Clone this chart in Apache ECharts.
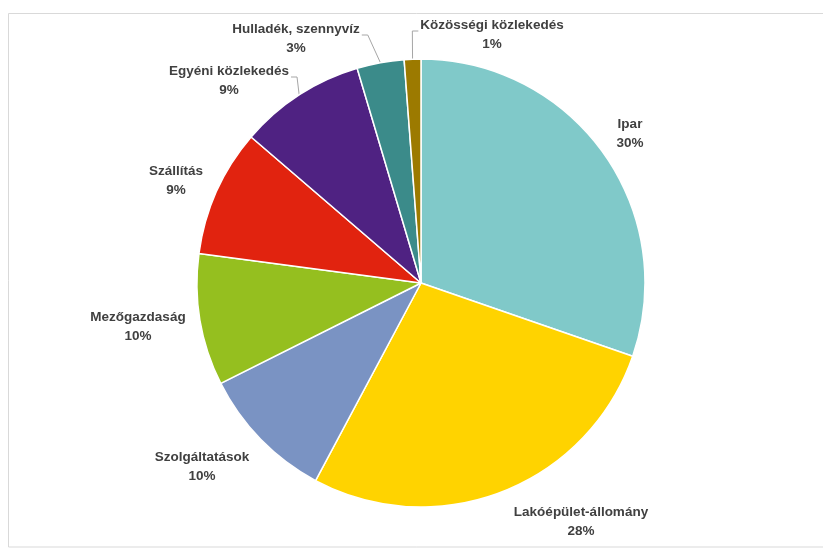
<!DOCTYPE html>
<html lang="hu">
<head>
<meta charset="UTF-8">
<title>Kibocsátás ágazatonként</title>
<style>
  html, body { margin: 0; padding: 0; background: #fff; }
  #main { width: 823px; height: 548px; }
</style>
</head>
<body>
<div id="main"></div>
<script src="https://cdn.jsdelivr.net/npm/echarts@6/dist/echarts.min.js"></script>
<script>
// shares in %, clockwise from 12 o'clock
var categories = ['Ipar', 'Lakóépület-állomány', 'Szolgáltatások', 'Mezőgazdaság',
                  'Szállítás', 'Egyéni közlekedés', 'Hulladék, szennyvíz', 'Közösségi közlekedés'];
var shares = [30.3, 27.5, 9.8, 9.5, 9.2, 9.1, 3.4, 1.2];

var colors = ['#80C9C9', '#FFD300', '#7A93C3', '#95BF1F', '#E1230F', '#4F2282', '#3B8B8A', '#9C7A00'];

// where each label sits (centre of the text block) and which ones have a leader line
var labelCenters = [[630, 134], [581, 522], [202, 467], [138, 327], [176, 181], [229, 81], [296, 39], [492, 35]];
var withLeader = [false, false, false, false, false, true, true, true];

var myChart = echarts.init(document.getElementById('main'));

var pieData = categories.map(function (name, i) {
    return {
        name: name,
        value: shares[i],
        itemStyle: { color: colors[i] },
        labelLine: { show: withLeader[i] }
    };
});

var option = {
    animation: false,
    backgroundColor: '#fff',
    graphic: [{
        type: 'rect',
        silent: true,
        shape: { x: 8.5, y: 13.5, width: 900, height: 533.5 },
        style: { fill: 'none', stroke: '#d9d9d9', lineWidth: 1 }
    }],
    series: [{
        type: 'pie',
        center: [421, 283],
        radius: 224,
        startAngle: 90,
        clockwise: true,
        avoidLabelOverlap: false,
        itemStyle: { borderColor: '#fff', borderWidth: 1.5 },
        label: {
            show: true,
            position: 'outside',
            formatter: function (p) {
                return p.name + '\n' + Math.round(p.percent) + '%';
            },
            fontFamily: 'Liberation Sans',
            fontWeight: 'bold',
            fontSize: 13.5,
            lineHeight: 19,
            color: '#404040'
        },
        labelLine: {
            show: true,
            length: 10,
            length2: 5,
            lineStyle: { color: '#a6a6a6', width: 1 }
        },
        labelLayout: function (params) {
            var i = params.dataIndex;
            var c = labelCenters[i];
            var out = { x: c[0], y: c[1], align: 'center', verticalAlign: 'middle' };
            if (withLeader[i] && params.labelLinePoints) {
                var w = params.labelRect.width;
                var p0 = params.labelLinePoints[0];
                var s = c[0] < p0[0] ? 1 : -1;
                var edge = c[0] + s * w / 2;
                var ay = c[1] - 4;
                out.labelLinePoints = [p0, [edge + s * 8, ay], [edge + s * 2, ay]];
            }
            return out;
        },
        data: pieData
    }]
};

myChart.setOption(option);
</script>
</body>
</html>
